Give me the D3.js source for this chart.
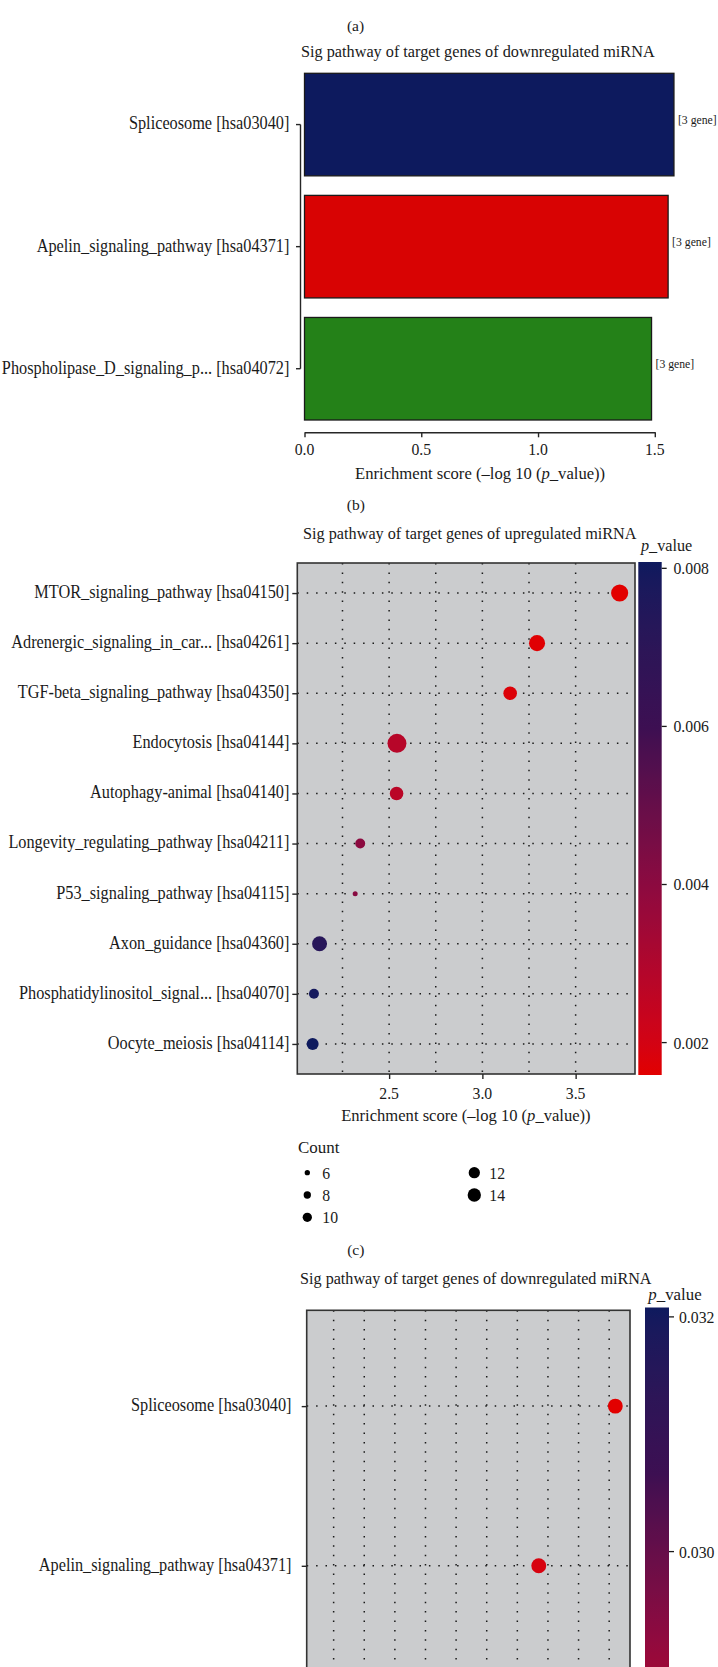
<!DOCTYPE html>
<html>
<head>
<meta charset="utf-8">
<script src="https://cdn.jsdelivr.net/npm/d3@7"></script>
<style>
  html, body { margin: 0; padding: 0; background: #ffffff; }
  svg { display: block; background: #ffffff; }
  text { font-family: "Liberation Serif", "Times New Roman", serif; }
</style>
</head>
<body>
<svg id="chart" width="718" height="1667"></svg>
<script>
// ---------------- DATA ----------------
// (a) bar chart + (c) dot plot: downregulated miRNA targets
const downPathways = ["Spliceosome [hsa03040]", "Apelin_signaling_pathway [hsa04371]", "Phospholipase_D_signaling_p... [hsa04072]"];
const downScore = [1.582, 1.557, 1.486];
const downGenes = ["[3 gene]", "[3 gene]", "[3 gene]"];
const downCount = [3, 3, 3];
const downPvalue = [0.0277, 0.0279, 0.03208];
const barTicks = [0, 0.5, 1.0, 1.5];
const downPTicks = [0.028, 0.030, 0.032];

// (b) dot plot: upregulated miRNA targets
const upPathways = ["MTOR_signaling_pathway [hsa04150]", "Adrenergic_signaling_in_car... [hsa04261]", "TGF-beta_signaling_pathway [hsa04350]", "Endocytosis [hsa04144]", "Autophagy-animal [hsa04140]", "Longevity_regulating_pathway [hsa04211]", "P53_signaling_pathway [hsa04115]", "Axon_guidance [hsa04360]", "Phosphatidylinositol_signal... [hsa04070]", "Oocyte_meiosis [hsa04114]"];
const upScore = [3.736, 3.293, 3.149, 2.542, 2.540, 2.345, 2.318, 2.127, 2.097, 2.090];
const upCount = [12, 11, 9, 14, 9, 7, 6, 10, 7, 8];
const upPvalue = [0.00159, 0.00165, 0.00175, 0.0028, 0.0027, 0.0040, 0.0041, 0.0072, 0.0079, 0.00808];
const upTicks = [2.5, 3.0, 3.5];
const upGrid = [2.25, 2.5, 2.75, 3.0, 3.25, 3.5];
const upPTicks = [0.002, 0.004, 0.006, 0.008];
const countBreaks = [6, 8, 10, 12, 14];

const titleDown = "Sig pathway of target genes of downregulated miRNA";
const titleUp = "Sig pathway of target genes of upregulated miRNA";

// ---------------- STYLE ----------------
const W = 718, H = 1667;
const INK = "#1a1a1a";
const barColors = ["#0d1a5e", "#d80303", "#248118"];
const gradStops = [0, 0.37, 0.68, 1];
const gradColors = ["#e20000", "#8c0a40", "#3c0f52", "#0e1a5e"];
const PANEL_BG = "#cbccce";
const NUM_SIZE = 17.5, NUM_SX = 0.9;
const LABEL_SIZE = 18;

const svg = d3.select("#chart");
const defs = svg.append("defs");

function txt(parent, parts, x, y, o = {}) {
  if (y > H + 4 || y < -4) return null; // not visible in the cropped figure
  const t = parent.append("text")
    .attr("text-anchor", o.anchor || "start")
    .attr("font-size", o.size || NUM_SIZE)
    .style("fill", o.fill || INK);
  const arr = typeof parts === "string" ? [[parts, false]] : parts;
  arr.forEach(([s, it], i) => {
    const ts = t.append("tspan").text(s);
    if (it) ts.attr("font-style", "italic");
    if (i === 0) ts.attr("dy", o.dy || "0.3em");
  });
  let sx = o.sx || 1;
  if (o.width) sx = o.width / t.node().getComputedTextLength();
  t.attr("transform", `translate(${x},${y}) scale(${sx},1)`);
  return t;
}
function measure(str, size) {
  const t = svg.append("text").attr("font-size", size).text(str);
  const w = t.node().getComputedTextLength();
  t.remove();
  return w;
}
const LABEL_SX = 252.8 / measure(downPathways[1], LABEL_SIZE);

function makeColor(values) {
  const [lo, hi] = d3.extent(values);
  return d3.scaleLinear()
    .domain(gradStops.map(t => lo + t * (hi - lo)))
    .range(gradColors)
    .interpolate(d3.interpolateLab);
}
function diamScale(counts, d0, d1) {
  const t = d3.scaleLinear().domain(d3.extent(counts)).range([0, 1]);
  return c => d0 + (d1 - d0) * Math.sqrt(t(c));
}
function expanded(vals) {
  const e = d3.extent(vals), p = (e[1] - e[0]) * 0.05;
  return [e[0] - p, e[1] + p];
}
function dotted(sel) {
  return sel.attr("stroke", "#1a1a1a").attr("stroke-width", 1.5)
    .attr("stroke-dasharray", "1.5 7.9").attr("fill", "none");
}
function colorbar(id, pvals, ticks, x, w, yTop, h, color) {
  const [lo, hi] = d3.extent(pvals);
  const grad = defs.append("linearGradient").attr("id", id)
    .attr("x1", 0).attr("y1", 1).attr("x2", 0).attr("y2", 0);
  d3.range(0, 41).forEach(i => {
    grad.append("stop").attr("offset", i / 40).attr("stop-color", color(lo + (hi - lo) * i / 40));
  });
  const yS = d3.scaleLinear().domain([lo, hi]).range([yTop + h, yTop]);
  svg.append("rect").attr("x", x).attr("y", yTop).attr("width", w).attr("height", h)
    .attr("fill", `url(#${id})`);
  ticks.forEach(v => {
    svg.append("line").attr("x1", x + w).attr("x2", x + w + 5)
      .attr("y1", yS(v)).attr("y2", yS(v)).attr("stroke", INK).attr("stroke-width", 1.3);
  });
  return yS;
}
function styleAxisLines(g) {
  g.selectAll("path,line").attr("stroke", "#262626").attr("stroke-width", 1.4);
  g.selectAll("text").remove();
}

// ---------------- PANEL (a): bar chart ----------------
txt(svg, "(a)", 355.5, 27, { size: 15.5, anchor: "middle", dy: "0.27em" });
txt(svg, titleDown, 477.8, 53.8, { size: 16.5, anchor: "middle", dy: "0.22em", width: 354 });

const xA = d3.scaleLinear().domain(d3.extent(barTicks)).range([304.5, 654.8]);
const yA = d3.scaleBand().domain(downPathways).range([73.3, 420]).paddingInner(0.16).paddingOuter(0);

svg.append("g").selectAll("rect").data(downPathways).join("rect")
  .attr("x", xA(0))
  .attr("y", d => yA(d))
  .attr("width", (d, i) => xA(downScore[i]) - xA(0))
  .attr("height", yA.bandwidth())
  .attr("fill", (d, i) => barColors[i])
  .attr("stroke", "#1a1a1a").attr("stroke-width", 1.3);

downPathways.forEach((d, i) => {
  txt(svg, downGenes[i], xA(downScore[i]) + 4, yA(d) + yA.bandwidth() / 2 - 4,
      { size: 12.5, dy: "0.27em", width: 38.7 });
});

// x axis
const axA = svg.append("g").attr("transform", "translate(0,432.3)")
  .call(d3.axisBottom(xA).tickValues(barTicks).tickSize(5).tickSizeOuter(0).tickFormat(""));
styleAxisLines(axA);
barTicks.forEach(v => txt(svg, d3.format(".1f")(v), xA(v), 448.7, { anchor: "middle", dy: "0.34em", sx: NUM_SX }));
txt(svg, [["Enrichment score (–log 10 (", false], ["p", true], ["_value))", false]], 480.1, 474.2,
    { size: 17, anchor: "middle", dy: "0.27em", width: 250.4 });

// y axis
const yAx = 300.5;
const axAy = svg.append("g").attr("transform", `translate(${yAx},0)`)
  .call(d3.axisLeft(yA).tickSize(4.5).tickFormat(""));
axAy.select(".domain").remove();
styleAxisLines(axAy);
svg.append("line").attr("x1", yAx).attr("x2", yAx)
  .attr("y1", yA(downPathways[0]) + yA.bandwidth() / 2)
  .attr("y2", yA(downPathways[downPathways.length - 1]) + yA.bandwidth() / 2)
  .attr("stroke", "#262626").attr("stroke-width", 1.4);
downPathways.forEach(d => txt(svg, d, 289.4, yA(d) + yA.bandwidth() / 2,
  { size: LABEL_SIZE, anchor: "end", dy: "0.27em", sx: LABEL_SX }));

txt(svg, "(b)", 355.8, 506.2, { size: 15.5, anchor: "middle", dy: "0.27em" });

// ---------------- PANEL (b): upregulated dot plot ----------------
txt(svg, titleUp, 469.8, 535.5, { size: 16.5, anchor: "middle", dy: "0.22em", width: 333.5 });

const upTop = 563, upBottom = 1074, upLeft = 297.3, upRight = 635;
const xB = d3.scaleLinear().domain(expanded(upScore)).range([upLeft, upRight]);
const yB = d3.scalePoint().domain(upPathways).range([upTop, upBottom]).padding(0.6);
const colorB = makeColor(upPvalue);
const diamB = diamScale(upCount, 5, 19);

svg.append("rect").attr("x", upLeft).attr("y", upTop).attr("width", upRight - upLeft)
  .attr("height", upBottom - upTop).attr("fill", PANEL_BG);
const gridB = svg.append("g");
gridB.selectAll("line.v").data(upGrid).join("line").attr("class", "v")
  .attr("x1", d => xB(d)).attr("x2", d => xB(d)).attr("y1", upTop).attr("y2", upBottom).call(dotted);
gridB.selectAll("line.h").data(upPathways).join("line").attr("class", "h")
  .attr("x1", upLeft).attr("x2", upRight).attr("y1", d => yB(d)).attr("y2", d => yB(d)).call(dotted);

svg.append("g").selectAll("circle").data(upPathways).join("circle")
  .attr("cx", (d, i) => xB(upScore[i]))
  .attr("cy", d => yB(d))
  .attr("r", (d, i) => diamB(upCount[i]) / 2)
  .attr("fill", (d, i) => colorB(upPvalue[i]));

svg.append("rect").attr("x", upLeft).attr("y", upTop).attr("width", upRight - upLeft)
  .attr("height", upBottom - upTop).attr("fill", "none").attr("stroke", "#333").attr("stroke-width", 1.6);

const axB = svg.append("g").attr("transform", `translate(0,${upBottom})`)
  .call(d3.axisBottom(xB).tickValues(upTicks).tickSize(5).tickSizeOuter(0).tickFormat(""));
axB.select(".domain").remove();
styleAxisLines(axB);
upTicks.forEach(v => txt(svg, d3.format(".1f")(v), xB(v), 1092.7, { anchor: "middle", dy: "0.34em", sx: NUM_SX }));
txt(svg, [["Enrichment score (–log 10 (", false], ["p", true], ["_value))", false]], 465.9, 1116.7,
    { size: 17, anchor: "middle", dy: "0.27em", width: 249.6 });

const axBy = svg.append("g").attr("transform", `translate(${upLeft},0)`)
  .call(d3.axisLeft(yB).tickSize(5).tickFormat(""));
axBy.select(".domain").remove();
styleAxisLines(axBy);
upPathways.forEach(d => txt(svg, d, 289.4, yB(d), { size: LABEL_SIZE, anchor: "end", dy: "0.27em", sx: LABEL_SX }));

// colorbar (b)
txt(svg, [["p", true], ["_value", false]], 641, 547, { dy: "0.23em", width: 51.3 });
const cbB = colorbar("gradB", upPvalue, upPTicks, 638.3, 23.4, 562, 513, colorB);
upPTicks.forEach(v => txt(svg, d3.format(".3f")(v), 673.5, cbB(v), { dy: "0.34em", sx: NUM_SX }));

// size legend
txt(svg, "Count", 298, 1147.7, { size: 16.5, dy: "0.33em", width: 41.5 });
const legDiam = d3.scaleLinear().domain(d3.extent(countBreaks)).range([5.3, 13.3]);
countBreaks.forEach((c, i) => {
  const col = i < 3 ? 0 : 1, row = i < 3 ? i : i - 3;
  const cx = col === 0 ? 307.3 : 474.3, cy = 1172.7 + row * 22.3;
  svg.append("circle").attr("cx", cx).attr("cy", cy).attr("r", legDiam(c) / 2).attr("fill", "#000");
  txt(svg, String(c), cx + 15, cy, { dy: "0.34em", sx: NUM_SX });
});

txt(svg, "(c)", 355.8, 1250.8, { size: 15.5, anchor: "middle", dy: "0.27em" });

// ---------------- PANEL (c): downregulated dot plot ----------------
txt(svg, titleDown, 475.8, 1280, { size: 16.5, anchor: "middle", dy: "0.22em", width: 351.7 });

const dnTop = 1310.3, dnLeft = 306.7, dnRight = 630, dnBottom = dnTop + 511;
const xC = d3.scaleLinear().domain(expanded(downScore)).range([dnLeft, dnRight]);
const yC = d3.scalePoint().domain(downPathways).range([dnTop, dnBottom]).padding(0.6);
const colorC = makeColor(downPvalue);
const diamC = diamScale(downCount, 5, 19);

svg.append("rect").attr("x", dnLeft).attr("y", dnTop).attr("width", dnRight - dnLeft)
  .attr("height", dnBottom - dnTop).attr("fill", PANEL_BG);
const gridC = svg.append("g");
gridC.selectAll("line.v").data(xC.ticks(10)).join("line").attr("class", "v")
  .attr("x1", d => xC(d)).attr("x2", d => xC(d)).attr("y1", dnTop).attr("y2", dnBottom).call(dotted);
gridC.selectAll("line.h").data(downPathways).join("line").attr("class", "h")
  .attr("x1", dnLeft).attr("x2", dnRight).attr("y1", d => yC(d)).attr("y2", d => yC(d)).call(dotted);

svg.append("g").selectAll("circle").data(downPathways).join("circle")
  .attr("cx", (d, i) => xC(downScore[i]))
  .attr("cy", d => yC(d))
  .attr("r", (d, i) => diamC(downCount[i]) / 2)
  .attr("fill", (d, i) => colorC(downPvalue[i]));

svg.append("rect").attr("x", dnLeft).attr("y", dnTop).attr("width", dnRight - dnLeft)
  .attr("height", dnBottom - dnTop).attr("fill", "none").attr("stroke", "#333").attr("stroke-width", 1.6);

const axCy = svg.append("g").attr("transform", `translate(${dnLeft},0)`)
  .call(d3.axisLeft(yC).tickSize(5).tickFormat(""));
axCy.select(".domain").remove();
styleAxisLines(axCy);
downPathways.forEach(d => txt(svg, d, 291.5, yC(d), { size: LABEL_SIZE, anchor: "end", dy: "0.27em", sx: LABEL_SX }));

txt(svg, [["p", true], ["_value", false]], 648.3, 1296.3, { dy: "0.23em", width: 53.4 });
const cbC = colorbar("gradC", downPvalue, downPTicks, 645, 24, 1307.5, 514, colorC);
downPTicks.forEach(v => txt(svg, d3.format(".3f")(v), 679, cbC(v), { dy: "0.34em", sx: NUM_SX }));
</script>
</body>
</html>
